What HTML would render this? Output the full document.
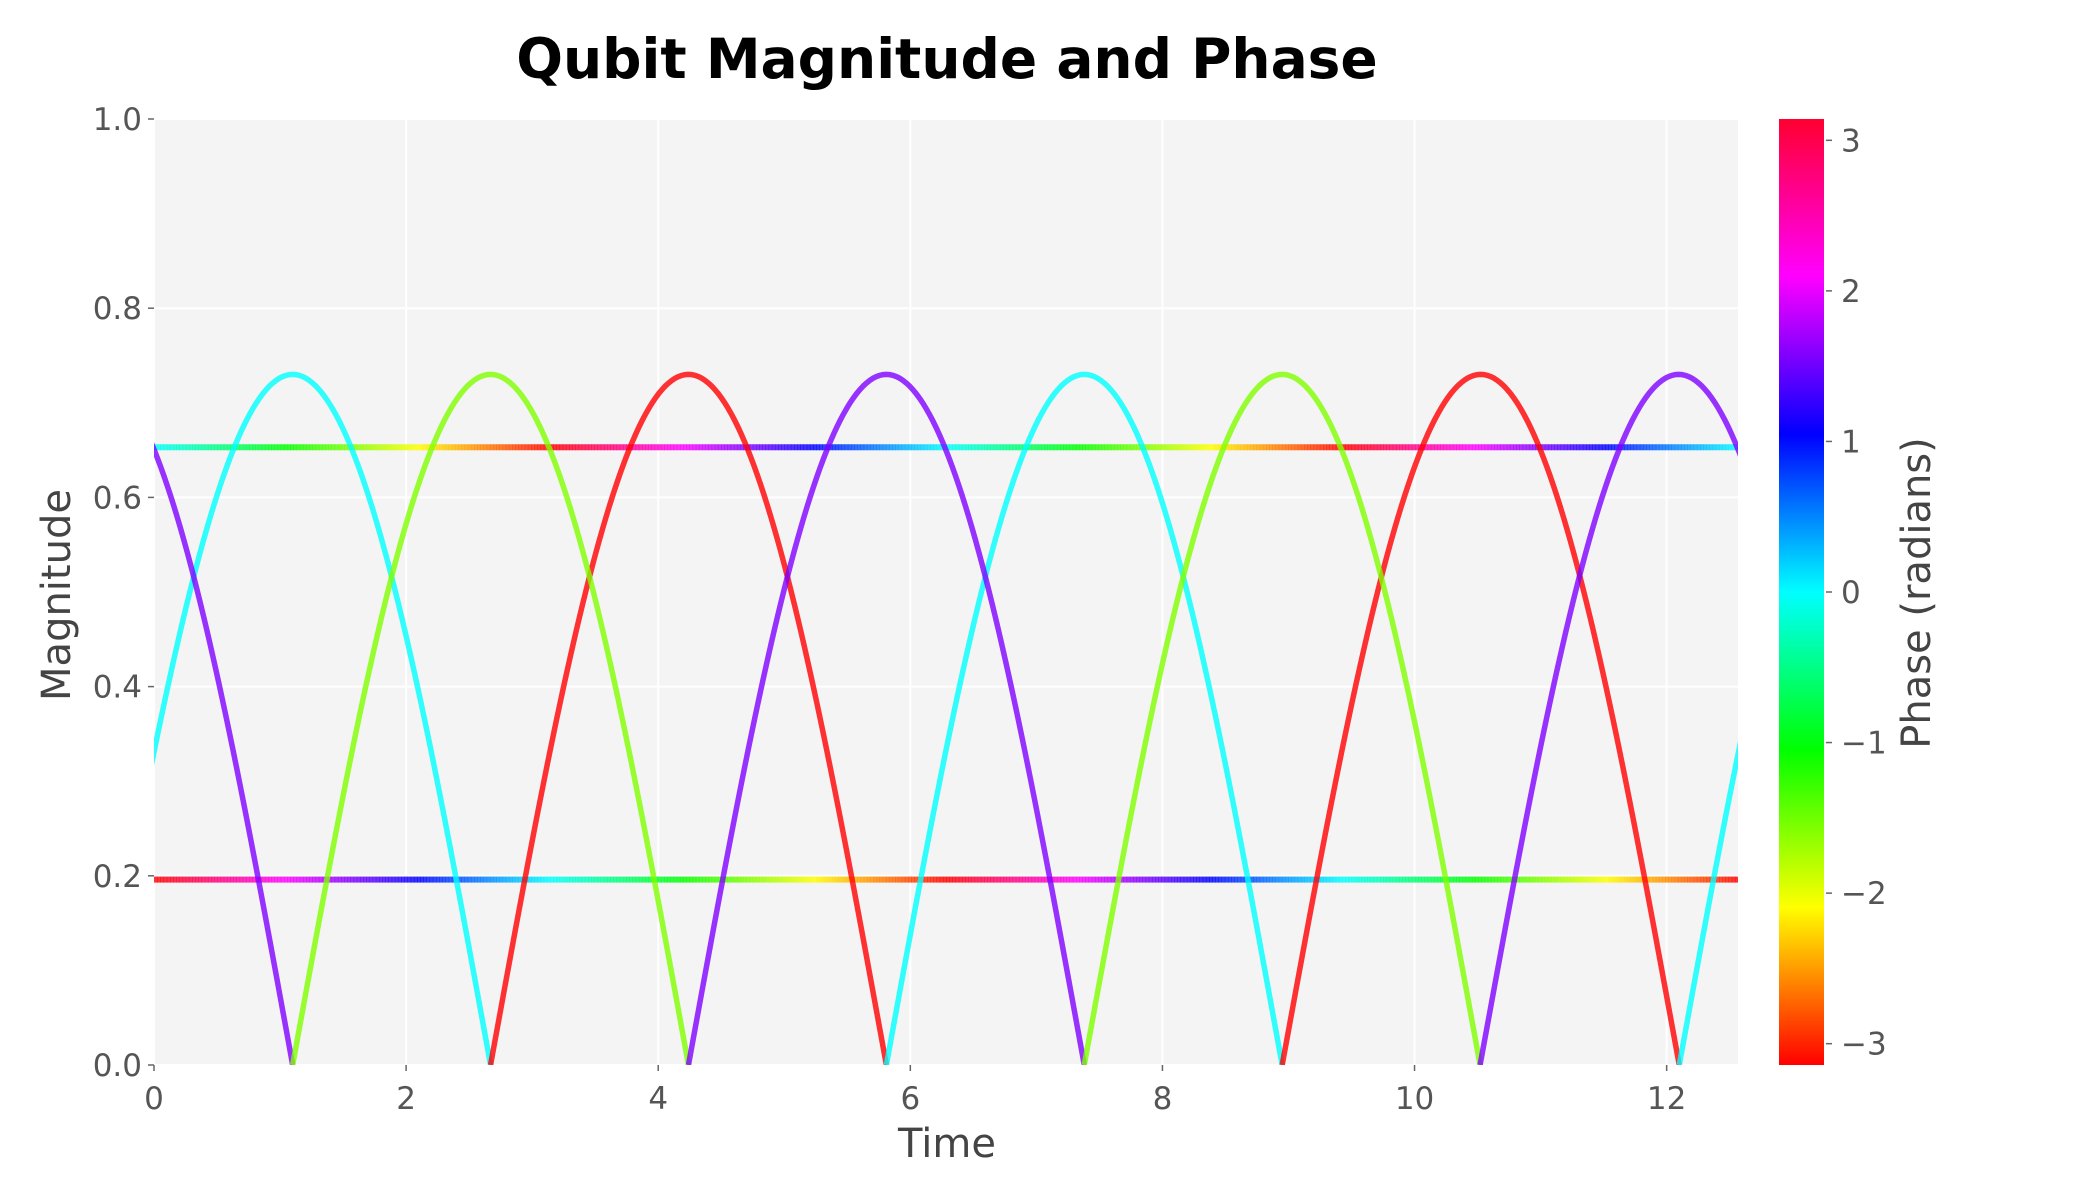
<!DOCTYPE html>
<html><head><meta charset="utf-8"><style>
html,body{margin:0;padding:0;background:#fff;}
svg{display:block;font-family:"DejaVu Sans","Liberation Sans",sans-serif;}
</style></head><body>
<svg id="chart" width="2100" height="1200" viewBox="0 0 2100 1200" xmlns="http://www.w3.org/2000/svg">
<defs>
<linearGradient id="cbgrad" x1="0" y1="1" x2="0" y2="0">
<stop offset="0" stop-color="#ff0000"/><stop offset="0.1667" stop-color="#ffff00"/><stop offset="0.3333" stop-color="#00ff00"/><stop offset="0.5" stop-color="#00ffff"/><stop offset="0.6667" stop-color="#0000ff"/><stop offset="0.8333" stop-color="#ff00ff"/><stop offset="1" stop-color="#ff0030"/>
</linearGradient>
<clipPath id="plotclip"><rect x="154" y="119" width="1584" height="946"/></clipPath>
</defs>
<text x="947" y="78" text-anchor="middle" font-size="55" font-weight="bold" fill="#000">Qubit Magnitude and Phase</text>
<rect x="154" y="119" width="1584" height="946" fill="#f4f4f4"/>
<g id="grid"></g>
<g id="axes"></g>
<g id="series" clip-path="url(#plotclip)"></g>
<rect x="1779" y="119" width="45" height="946" fill="url(#cbgrad)"/>
<g id="cbticks"></g>
<text x="947" y="1157" text-anchor="middle" font-size="40" fill="#444">Time</text>
<text transform="translate(70,595) rotate(-90)" text-anchor="middle" font-size="40" fill="#444">Magnitude</text>
<text transform="translate(1930,593) rotate(-90)" text-anchor="middle" font-size="40" fill="#444">Phase (radians)</text>
</svg>
<script>
const xTicks = [0, 2, 4, 6, 8, 10, 12];
const yTicks = [0.0, 0.2, 0.4, 0.6, 0.8, 1.0];
const yTickLabels = ["0.0", "0.2", "0.4", "0.6", "0.8", "1.0"];
const cbTicks = [-3, -2, -1, 0, 1, 2, 3];
const cbTickLabels = ["\u22123", "\u22122", "\u22121", "0", "1", "2", "3"];
const xMax = 12.566;
const humpPeak = 0.73;
const humpZerosA = [-0.47, 2.67, 5.81, 8.95, 12.10, 15.24];
const humpPhasesA = [0, 3.14, 0, 3.14, 0];
const humpZerosB = [-2.04, 1.10, 4.24, 7.38, 10.52, 13.67];
const humpPhasesB = [1.57, -1.57, 1.57, -1.57, 1.57];
const flatLevels = [0.653, 0.196];
const flatStartPhases = [0, 3.1416];

const NS = "http://www.w3.org/2000/svg";
const L = 154, R = 1738, T = 119, B = 1065;
function xs(v){ return L + v / xMax * (R - L); }
function ys(v){ return B - v * (B - T); }
function cy(p){ return B - (p + Math.PI) / (2 * Math.PI) * (B - T); }
function wrap(p){ while (p > Math.PI) p -= 2*Math.PI; while (p < -Math.PI) p += 2*Math.PI; return p; }
function color(p){ const h = (wrap(p) + Math.PI) / (2*Math.PI) * 360; return "hsl(" + h.toFixed(1) + ",100%,50%)"; }
function mk(tag, attrs, parent){ const e = document.createElementNS(NS, tag); for (const k in attrs) e.setAttribute(k, attrs[k]); parent.appendChild(e); return e; }

const grid = document.getElementById("grid"), axes = document.getElementById("axes"), series = document.getElementById("series"), cbt = document.getElementById("cbticks");
xTicks.forEach(v => {
  const g = mk("line", {x1: xs(v), x2: xs(v), y1: T, y2: B, stroke: "#fff", "stroke-width": 2}, grid);
  
  
  const t = mk("line", {x1: xs(v), x2: xs(v), y1: B, y2: B + 6, stroke: "#666", "stroke-width": 1.5}, axes);
  
  
  const lb = mk("text", {x: xs(v), y: B + 44, "text-anchor": "middle", "font-size": 31, fill: "#555"}, axes);
  lb.textContent = String(v);
  
  
});
yTicks.forEach((v, i) => {
  const g = mk("line", {x1: L, x2: R, y1: ys(v), y2: ys(v), stroke: "#fff", "stroke-width": 2}, grid);
  
  
  const t = mk("line", {x1: L - 6, x2: L, y1: ys(v), y2: ys(v), stroke: "#666", "stroke-width": 1.5}, axes);
  
  
  const lb = mk("text", {x: L - 12, y: ys(v) + 11, "text-anchor": "end", "font-size": 31, fill: "#555"}, axes);
  lb.textContent = yTickLabels[i];
  
  
});
cbTicks.forEach((v, i) => {
  const t = mk("line", {x1: 1826, x2: 1832, y1: cy(v), y2: cy(v), stroke: "#666", "stroke-width": 1.5}, cbt);
  
  
  const lb = mk("text", {x: 1841, y: cy(v) + 11, "font-size": 31, fill: "#555"}, cbt);
  lb.textContent = cbTickLabels[i];
  
  
});

flatLevels.forEach((lev, k) => {
  const g = mk("g", {}, series);
  
  
  const N = 500;
  for (let i = 0; i < N; i++) {
    const t0 = xMax * i / N, t1 = xMax * (i + 1) / N;
    mk("line", {x1: xs(t0), x2: xs(t1) + 0.6, y1: ys(lev), y2: ys(lev), stroke: color(flatStartPhases[k] - (t0 + t1) / 2), "stroke-width": 6, "stroke-opacity": 0.8}, g);
  }
});

function drawHumps(zeros, phases, name){
  const g = mk("g", {}, series);
  
  
  for (let h = 0; h < phases.length; h++) {
    const a = zeros[h], b = zeros[h + 1];
    let d = "";
    const N = 120;
    for (let i = 0; i <= N; i++) {
      const t = a + (b - a) * i / N;
      const v = humpPeak * Math.sin(Math.PI * (t - a) / (b - a));
      d += (i ? "L" : "M") + xs(t).toFixed(2) + "," + ys(v).toFixed(2);
    }
    const p = mk("path", {d: d, fill: "none", stroke: color(phases[h]), "stroke-width": 5.5, "stroke-opacity": 0.8}, g);
    
    
  }
}
drawHumps(humpZerosA, humpPhasesA, "series-a");
drawHumps(humpZerosB, humpPhasesB, "series-b");
</script>
</body></html>
